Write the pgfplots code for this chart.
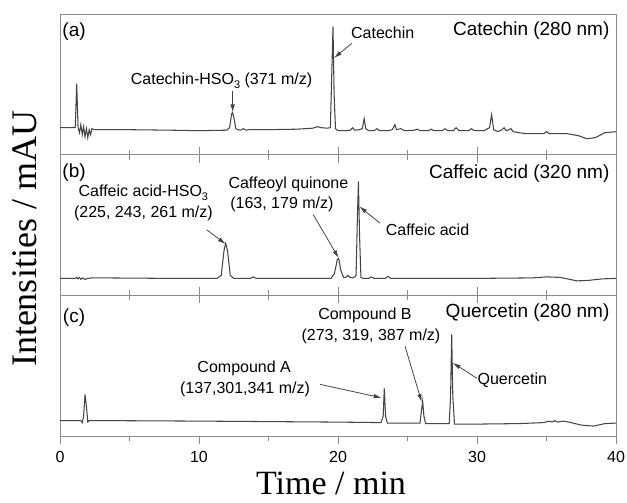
\documentclass[border=0pt]{standalone}
\usepackage{fontspec}
\setmainfont{Liberation Sans}
\newfontfamily\seriffont{Liberation Serif}
\usepackage{pgfplots}
\pgfplotsset{compat=1.18}
\usetikzlibrary{arrows.meta}
\definecolor{tracecol}{HTML}{444444}
\definecolor{framecol}{HTML}{8A8A8A}
\newcommand{\fs}[1]{\fontsize{#1}{#1}\selectfont}
\newcommand{\sub}[1]{\raisebox{-0.45ex}{\fontsize{11}{11}\selectfont #1}}
\pgfplotsset{
  panel/.style={
    scale only axis, width=556pt, height=140.7pt,
    xmin=0, xmax=40, ymin=0, ymax=140.7,
    xtick={0,10,20,30,40}, minor x tick num=1,
    ytick=\empty,
    tick align=outside,
    major tick length=8pt, minor tick length=5pt,
    axis line style={framecol, line width=0.9pt},
    every tick/.style={framecol, line width=0.9pt},
    /pgf/number format/assume math mode=true,
    tick label style={font=\fs{16}},
    xticklabel style={yshift=-4pt},
    anchor=south west,
    clip=false,
  },
  tracestyle/.style={tracecol, line width=1.05pt, mark=none},
}
\tikzset{arr/.style={-{Latex[length=8pt,width=4.5pt]}, tracecol, line width=0.8pt}}
\begin{document}
\begin{tikzpicture}
\useasboundingbox (0,0) rectangle (627pt,503pt);
% ---------- panel (a)
\begin{axis}[panel, at={(60pt,348.3pt)}, xtick pos=bottom, xticklabels={}]
\addplot[tracestyle] coordinates {
(0,27) (1.0,27) (1.1,27.5) (1.2,71) (1.3,27) (1.4,22) (1.5,30) (1.6,20) (1.7,28) (1.8,18) (1.9,26) (2.0,17) (2.1,25) (2.2,20) (2.3,26) (2.5,25) (3,25) (5,25) (8,24.5) (10,24) (12,24.5) (12.2,27) (12.35,41) (12.42,42) (12.5,38) (12.65,26) (12.8,25) (13.0,24.5) (13.2,26) (13.4,24.5) (13.6,25) (15,25) (17,25.5) (18.2,26.5) (18.5,28) (18.8,27) (19.2,26.5) (19.45,27) (19.55,80) (19.64,128) (19.72,60) (19.82,26) (20.0,24) (20.5,24) (20.9,24.5) (21.05,27) (21.2,24.5) (21.5,25) (21.75,26) (21.88,36) (22.0,26) (22.2,24) (22.6,24) (22.8,26) (23.0,24) (23.6,24) (23.9,25) (24.1,30) (24.2,25) (24.5,26) (24.8,24) (25.5,24.5) (25.7,25.5) (25.9,24) (26.5,24) (26.7,25.5) (26.9,24) (27.5,24) (27.7,26) (27.9,24) (28.3,24) (28.5,27) (28.7,24) (29.4,24) (29.6,26) (29.8,24) (30.5,24) (30.9,27) (31.05,40) (31.2,25) (31.5,23) (31.8,25) (31.95,27) (32.1,24) (32.3,25) (32.45,26) (32.6,23) (33.5,21) (34.8,21) (35.0,23) (35.2,21) (36.5,21) (37.3,19) (37.9,16) (38.5,17) (39.2,22) (40,23)
};
\node[font=\fs{19}] at (axis cs:1.01,123) {(a)};
\node[anchor=east, font=\fs{19}] at (axis cs:39.78,124) {Catechin (280 nm)};
\node[font=\fs{16}] at (axis cs:11.62,74) {Catechin-HSO\sub{3} (371 m/z)};
\draw[arr] (axis cs:12.42,63.3) -- (axis cs:12.42,42.3);
\node[font=\fs{16}] at (axis cs:23.22,122) {Catechin};
\draw[arr] (axis cs:20.99,111.3) -- (axis cs:19.71,96.7);
\end{axis}
% ---------- panel (b)
\begin{axis}[panel, at={(60pt,207.6pt)}, xtick pos=both, xticklabels={}]
\addplot[tracestyle] coordinates {
(0,17) (1.1,17) (1.2,18) (1.3,16.5) (1.4,18) (1.5,16) (1.6,17.5) (1.8,16) (2.0,17) (2.3,17.5) (3,17.5) (8,17) (11.3,17) (11.6,20) (11.8,45) (11.92,52) (12.05,45) (12.25,20) (12.5,17) (13.7,17) (13.9,18.5) (14.1,17) (19.5,17) (19.75,22) (19.95,36) (20.05,37) (20.2,25) (20.4,18) (20.55,18) (20.7,20) (20.85,18) (21.1,17.5) (21.3,20) (21.4,80) (21.47,114) (21.55,60) (21.65,18) (21.8,17) (22.2,17) (22.4,18.5) (22.6,17) (23.4,17) (23.6,19) (23.8,17) (30,17) (34,17.5) (35,18.5) (36,18) (37.2,14.5) (38,15) (39,16.5) (40,17)
};
\node[font=\fs{19}] at (axis cs:1.01,123) {(b)};
\node[anchor=east, font=\fs{19}] at (axis cs:39.78,122.3) {Caffeic acid (320 nm)};
\node[font=\fs{16}] at (axis cs:6.0,102.3) {Caffeic acid-HSO\sub{3}};
\node[font=\fs{16}] at (axis cs:6.0,82.3) {(225, 243, 261 m/z)};
\draw[arr] (axis cs:10.55,65.7) -- (axis cs:11.92,51.3);
\node[anchor=west, font=\fs{16}] at (axis cs:11.87,111.3) {Caffeoyl quinone};
\node[anchor=west, font=\fs{16}] at (axis cs:12.0,91.3) {(163, 179 m/z)};
\draw[arr] (axis cs:18.22,80.7) -- (axis cs:20.05,37.3);
\node[font=\fs{16}] at (axis cs:26.44,65.7) {Caffeic acid};
\draw[arr] (axis cs:23.02,72.3) -- (axis cs:21.53,89);
\end{axis}
% ---------- panel (c)
\begin{axis}[panel, at={(60pt,66.9pt)}, xtick pos=both, xticklabel pos=bottom]
\addplot[tracestyle] coordinates {
(0,15.5) (1.5,15.5) (1.6,13.5) (1.7,20) (1.8,41.7) (1.9,30) (2.0,14) (2.1,15.5) (3,15.5) (10,15) (20,14) (23.1,13.5) (23.25,20) (23.33,47.7) (23.42,20) (23.55,13) (25.9,13) (26.0,25) (26.09,35) (26.18,20) (26.3,12.5) (28.0,12.5) (28.1,40) (28.18,101.7) (28.26,40) (28.38,12) (30,12) (33,12.5) (34.8,13.5) (35.2,15) (35.4,14) (35.6,15.5) (35.8,14) (36.2,15) (36.6,14) (37.5,11) (38.4,10) (39.2,12.5) (40,13)
};
\node[font=\fs{19}] at (axis cs:1.01,119) {(c)};
\node[anchor=east, font=\fs{19}] at (axis cs:39.78,123.3) {Quercetin (280 nm)};
\node[font=\fs{16}] at (axis cs:21.94,121) {Compound B};
\node[font=\fs{16}] at (axis cs:22.37,100) {(273, 319, 387 m/z)};
\draw[arr] (axis cs:24.82,90) -- (axis cs:26.02,34);
\node[font=\fs{16}] at (axis cs:13.25,68) {Compound A};
\node[font=\fs{16}] at (axis cs:13.31,47) {(137,301,341 m/z)};
\draw[arr] (axis cs:18.71,51.7) -- (axis cs:23.14,38.3);
\node[font=\fs{16}] at (axis cs:32.54,56) {Quercetin};
\draw[arr] (axis cs:29.98,58) -- (axis cs:28.25,73.3);
\end{axis}
% ---------- axis titles
\node[rotate=90, anchor=base, font=\seriffont\fs{36}] at (36pt,264pt) {Intensities / mAU};
\node[anchor=base, font=\seriffont\fs{34}] at (331pt,8pt) {Time / min};
\end{tikzpicture}
\end{document}
